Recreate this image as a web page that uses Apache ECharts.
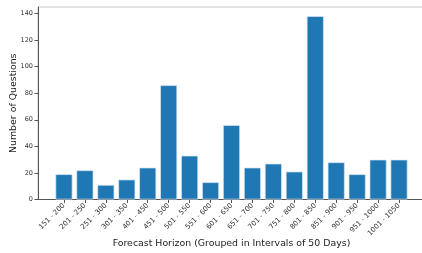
<!DOCTYPE html>
<html lang="en">
  <head>
    <meta charset="UTF-8" />
    <title>Forecast Horizon</title>
    <script src="https://cdn.jsdelivr.net/npm/echarts@6.0.0/dist/echarts.min.js"></script>
    <style>
      body { margin: 0; background: #fff; }
    </style>
  </head>
  <body>
    <div id="main" style="width: 422px; height: 253px"></div>
    <script type="text/javascript">
      // data
      const categories = [
        "151 - 200", "201 - 250", "251 - 300", "301 - 350", "401 - 450",
        "451 - 500", "501 - 550", "551 - 600", "601 - 650", "651 - 700",
        "701 - 750", "751 - 800", "801 - 850", "851 - 900", "901 - 950",
        "951 - 1000", "1001 - 1050"
      ];
      const counts = [19, 22, 11, 15, 24, 86, 33, 13, 56, 24, 27, 21, 138, 28, 19, 30, 30];
      const yTicks = [0, 20, 40, 60, 80, 100, 120, 140];

      const myChart = echarts.init(document.getElementById("main"));
      const font = "DejaVu Sans";

      const options = {
        animation: false,
        grid: {
          left: 38, top: 7, width: 387, height: 192.5,
          outerBoundsMode: "none",
          show: true, borderColor: "#c8c8c8", borderWidth: 1
        },
        xAxis: {
          type: "value",
          min: -1.24,
          max: 17.24,
          splitLine: { show: false },
          axisLine: { show: true, onZero: false, lineStyle: { color: "#555", width: 1 } },
          axisTick: {
            show: true, length: 3.5, customValues: categories.map((c, i) => i),
            lineStyle: { color: "#555" }
          },
          axisLabel: {
            customValues: categories.map((c, i) => i),
            formatter: (v) => categories[v],
            rotate: 45, fontSize: 7, color: "#333", fontFamily: font, margin: 5
          },
          name: "Forecast Horizon (Grouped in Intervals of 50 Days)",
          nameLocation: "middle",
          nameMoveOverlap: false,
          nameGap: 40,
          nameTextStyle: { fontSize: 9.4, color: "#222", fontFamily: font }
        },
        yAxis: {
          type: "value",
          min: 0,
          max: 144.9,
          interval: 20,
          splitLine: { show: false },
          axisLine: { show: true, onZero: false, lineStyle: { color: "#555", width: 1 } },
          axisTick: { show: true, length: 3.5, customValues: yTicks, lineStyle: { color: "#555" } },
          axisLabel: {
            customValues: yTicks,
            fontSize: 6.5, color: "#333", fontFamily: font, margin: 5
          },
          name: "Number of Questions",
          nameLocation: "middle",
          nameMoveOverlap: false,
          nameGap: 20,
          nameTextStyle: { fontSize: 9.4, color: "#222", fontFamily: font }
        },
        series: [
          {
            type: "bar",
            data: counts.map((v, i) => [i, v]),
            barWidth: 17,
            itemStyle: { color: "#1f77b4", borderColor: "#dceaf5", borderWidth: 0.7 }
          }
        ]
      };

      myChart.setOption(options);
    </script>
  </body>
</html>
